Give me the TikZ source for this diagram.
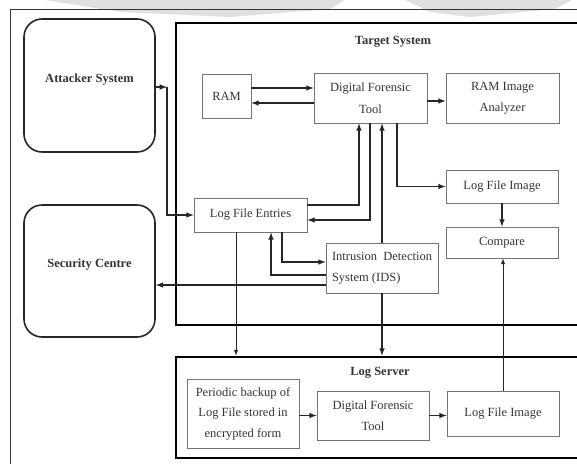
\documentclass[tikz,border=0pt]{standalone}
\usepackage{fontspec}
\setmainfont{Liberation Serif}
\usepackage{tikz}

\tikzset{
  sysbox/.style={draw=black!85, line width=1.6pt, rounded corners=18pt, minimum width=131pt, minimum height=132pt},
  frame/.style={draw=black, line width=2.8pt, minimum width=414pt, inner sep=0pt},
  unit/.style={draw=black!55, line width=0.8pt, inner sep=2pt, align=center},
  title/.style={font=\fontsize{12.5}{14}\selectfont\bfseries},
  flow/.style={->, line width=1.5pt, draw=black!85},
  thinflow/.style={->, line width=1pt, draw=black!85}
}

\begin{document}
\begin{tikzpicture}[x=1pt, y=-1pt, >=latex, font=\fontsize{12.5}{21.5}\selectfont, text=black!80]
			\useasboundingbox (0,0) rectangle (577,463);
			\fill[black!12] (45,0) -- (345,0) -- (330,9) -- (230,17) -- (120,12) -- cycle;
			\fill[black!12] (405,0) -- (572,0) -- (555,9) -- (470,17) -- (430,12) -- cycle;
			\draw[line width=1pt, black!80] (10,9) rectangle (600,475);

			\node	(tgt) at (383,174) [frame, minimum height=302pt] {};
			\node	(lsrv) at (383,407.5) [frame, minimum height=101pt] {};
			\node	(tgtlbl) at (393,42) [title] {Target System};
			\node	(lsrvlbl) at (380,373) [title] {Log Server};

			\node	(att) at (89.5,85.5) [sysbox, minimum height=133pt] {};
			\node	(attlbl) at (89.5,80) [title] {Attacker System};
			\node	(sec) at (89.5,271) [sysbox] {};
			\node	(seclbl) at (89.5,265) [title] {Security Centre};

			\node	(ram) at (226.5,96) [unit, minimum width=49pt, minimum height=44pt] {RAM};
			\node	(dft1) at (370.5,98) [unit, minimum width=113pt, minimum height=50pt] {Digital Forensic\\Tool};
			\node	(rama) at (502.5,98) [unit, minimum width=113pt, minimum height=50pt] {RAM Image\\Analyzer};
			\node	(lfi1) at (502,186.5) [unit, minimum width=112pt, minimum height=33pt] {Log File Image};
			\node	(cmp) at (502,242.5) [unit, minimum width=112pt, minimum height=31pt] {Compare};
			\node	(lfe) at (250.5,215) [unit, minimum width=113pt, minimum height=34pt] {Log File Entries};
			\node	(ids) at (382,268) [unit, minimum width=112pt, minimum height=50pt, align=left] {Intrusion\ \ Detection\\System (IDS)};
			\node	(pbk) at (243,413.5) [unit, minimum width=112pt, minimum height=69pt, font=\fontsize{12.5}{20.5}\selectfont] {Periodic backup of\\Log File stored in\\encrypted form};
			\node	(dft2) at (373,415.5) [unit, minimum width=112pt, minimum height=49pt] {Digital Forensic\\Tool};
			\node	(lfi2) at (503,413.5) [unit, minimum width=112pt, minimum height=45pt] {Log File Image};

			\coordinate (bend) at (167,87);

			% target system
			\draw[flow] ([yshift=8pt]ram.east) -- ([yshift=8pt]ram.east -| dft1.west);
			\draw[flow] ([yshift=-5pt]dft1.west) -- ([yshift=-5pt]dft1.west -| ram.east);
			\draw[flow] ([yshift=-3pt]dft1.east) -- ([yshift=-3pt]dft1.east -| rama.west);
			\draw[flow] ([xshift=26.5pt]dft1.south) |- (lfi1.west);
			\draw[flow] (lfi1.south) -- (cmp.north);
			\draw[flow] ([yshift=10pt]lfe.east) -| ([xshift=-11.5pt]dft1.south);
			\draw[flow] ([xshift=-0.5pt]dft1.south) |- ([yshift=-5pt]lfe.east);
			\draw[flow] (ids.north) -- (ids.north |- dft1.south);
			\draw[flow] ([xshift=31.5pt]lfe.south) |- ([yshift=6pt]ids.west);
			\draw[flow] ([yshift=-7pt]ids.west) -| ([xshift=20.5pt]lfe.south);
			\draw[flow] ([yshift=-17pt]ids.west) -- ([yshift=-17pt]ids.west -| sec.east);
			\draw[flow] (att.east |- bend) -- (bend);
			\draw[flow] (bend) |- (lfe.west);

			% to and from the log server
			\draw[thinflow] ([xshift=-14.5pt]lfe.south) -- ([xshift=-14.5pt]lfe.south |- lsrv.north);
			\draw[flow] (ids.south) -- (ids.south |- lsrv.north);
			\draw[flow] (pbk.east |- dft2) -- (dft2.west);
			\draw[flow] (dft2.east) -- (dft2.east -| lfi2.west);
			\draw[thinflow] (lfi2.north) -- (lfi2.north |- cmp.south);
		\end{tikzpicture}
\end{document}
